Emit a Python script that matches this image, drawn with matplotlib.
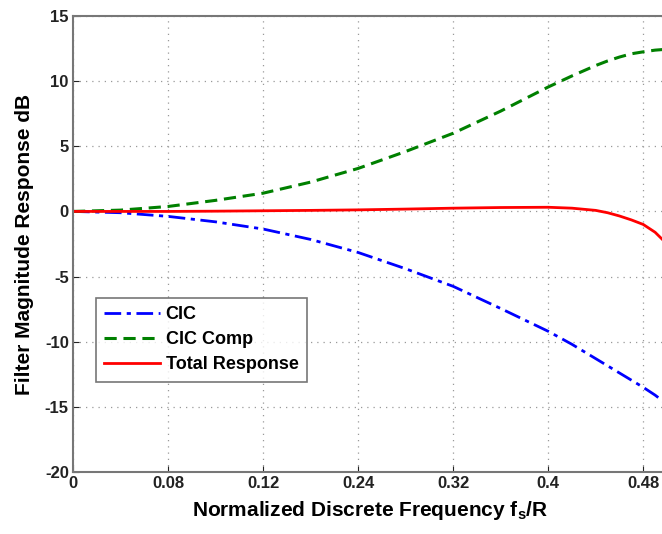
import numpy as np
import matplotlib
matplotlib.use("Agg")
import matplotlib.pyplot as plt

# values
freq = [0, 0.04, 0.08, 0.12, 0.16, 0.2, 0.24, 0.28, 0.32, 0.36, 0.4,
        0.42, 0.44, 0.45, 0.46, 0.47, 0.48, 0.49, 0.5]
cic = [0, -0.1, -0.38, -0.8, -1.35, -2.15, -3.15, -4.4, -5.75, -7.45, -9.2,
       -10.2, -11.3, -11.85, -12.4, -12.95, -13.5, -14.1, -14.8]
cic_comp = [0, 0.1, 0.38, 0.85, 1.4, 2.25, 3.3, 4.6, 6.0, 7.7, 9.55,
            10.4, 11.2, 11.55, 11.85, 12.1, 12.25, 12.38, 12.45]
total = [0, 0, 0, 0.02, 0.05, 0.08, 0.12, 0.18, 0.25, 0.3, 0.32,
         0.25, 0.08, -0.1, -0.35, -0.65, -1.0, -1.6, -2.5]

xticks = [0, 0.08, 0.16, 0.24, 0.32, 0.4, 0.48]
xticklabels = ["0", "0.08", "0.12", "0.24", "0.32", "0.4", "0.48"]
yticks = [-20, -15, -10, -5, 0, 5, 10, 15]

plt.rcParams["font.family"] = ["Liberation Sans", "DejaVu Sans"]
plt.rcParams["font.weight"] = "bold"
plt.rcParams["axes.unicode_minus"] = False

fig = plt.figure(figsize=(6.62, 5.34), dpi=100)
ax = fig.add_axes([73 / 662, 1 - 472 / 534, 594 / 662, (472 - 16) / 534])

ax.plot(freq, cic, color="#0000ff", linestyle=(0, (6, 2, 1.5, 2)), lw=2, label="CIC")
ax.plot(freq, cic_comp, color="#008000", linestyle=(0, (4, 2.2)), lw=2.2, label="CIC Comp")
ax.plot(freq, total, color="#ff0000", linestyle="-", lw=2, label="Total Response")

ax.set_xlim(0, 0.5)
ax.set_ylim(-20, 15)
ax.set_xticks(xticks)
ax.set_xticklabels(xticklabels)
ax.set_yticks(yticks)
ax.grid(True, linestyle=(0, (1, 4)), color="#999999", lw=0.9)
ax.tick_params(direction="in", length=4, labelsize=12, colors="#222222", pad=3)
for s in ax.spines.values():
    s.set_color("#777777")
    s.set_linewidth(1.5)

ax.set_xlabel("Normalized Discrete Frequency f$_\\mathregular{s}$/R", fontsize=15,
              fontweight="bold", labelpad=6)
ax.set_ylabel("Filter Magnitude Response dB", fontsize=15, fontweight="bold",
              labelpad=8)

leg = ax.legend(loc="upper left", bbox_to_anchor=(23 / 594, 1 - (298 - 16) / 456),
                borderaxespad=0, frameon=True, fancybox=False, fontsize=13,
                handlelength=3.1, borderpad=0.45, labelspacing=0.45,
                handletextpad=0.3)
leg.get_frame().set_edgecolor("#555555")
leg.get_frame().set_linewidth(1.2)

fig.savefig("out.png", dpi=100)
